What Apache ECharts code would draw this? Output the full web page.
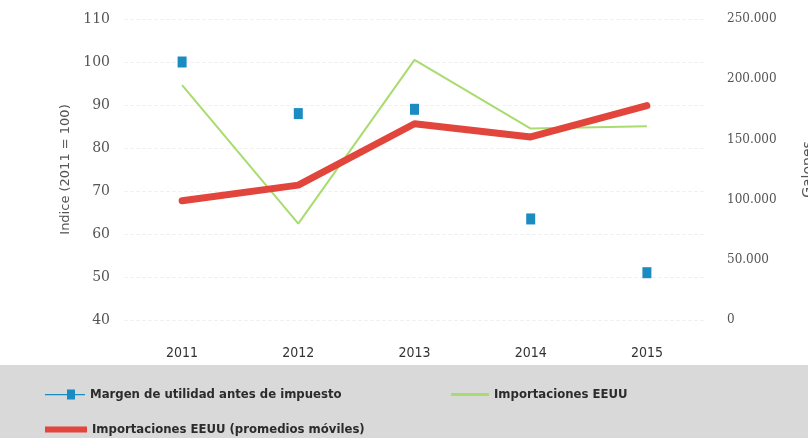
<!DOCTYPE html>
<html>
<head>
<meta charset="utf-8">
<script src="https://cdn.jsdelivr.net/npm/echarts@6/dist/echarts.min.js"></script>
<style>
  html, body { margin: 0; padding: 0; background: #fff; }
  #chart { width: 808px; height: 438px; }
</style>
</head>
<body>
<div id="chart"></div>
<script>
// datos
var years = ['2011', '2012', '2013', '2014', '2015']
var margen = [100, 88, 89, 63.5, 51] // índice (2011 = 100)
var importaciones = [195000, 80000, 216000, 159000, 161000] // galones
var importacionesProm = [99000, 112000, 163000, 152000, 178000] // promedios móviles

var chart = echarts.init(document.getElementById('chart'))

function miles(v) {
  // 250000 -> 250.000
  return String(v).replace(/\B(?=(\d{3})+(?!\d))/g, '.')
}

var legendText = {
  color: '#2b2b2b',
  fontSize: 13,
  fontWeight: 'bold',
  fontFamily: 'DejaVu Sans Condensed'
}

var option = {
  backgroundColor: '#ffffff',
  animation: false,
  graphic: [{
    type: 'rect',
    left: 0,
    top: 365,
    shape: { width: 808, height: 73 },
    style: { fill: '#d9d9d9' },
    z: -1
  }],
  grid: {
    left: 124,
    right: 103,
    top: 19,
    bottom: 118,
    outerBoundsMode: 'none'
  },
  legend: [{
    left: 40,
    top: 383,
    itemWidth: 40,
    itemHeight: 10,
    itemGap: 3,
    textStyle: legendText,
    data: [{
      name: 'Margen de utilidad antes de impuesto',
      icon: 'path://M0,4.5h40v1.2h-40z M22,0h8v10h-8z'
    }]
  }, {
    left: 446,
    top: 383,
    itemWidth: 38,
    itemHeight: 3,
    itemGap: 4,
    textStyle: legendText,
    data: [{ name: 'Importaciones EEUU', icon: 'rect' }]
  }, {
    left: 40,
    top: 418,
    itemWidth: 42,
    itemHeight: 6,
    itemGap: 3,
    textStyle: legendText,
    data: [{ name: 'Importaciones EEUU (promedios móviles)', icon: 'rect' }]
  }],
  xAxis: {
    type: 'category',
    data: years,
    boundaryGap: true,
    axisLine: { show: false },
    axisTick: { show: false },
    axisLabel: {
      color: '#333',
      fontSize: 14,
      fontFamily: 'DejaVu Sans Condensed',
      margin: 26
    }
  },
  yAxis: [{
    type: 'value',
    min: 40,
    max: 110,
    interval: 10,
    name: 'Indice (2011 = 100)',
    nameLocation: 'middle',
    nameGap: 41,
    nameTextStyle: { color: '#555', fontSize: 13, fontFamily: 'DejaVu Sans' },
    axisLine: { show: false },
    axisTick: { show: false },
    axisLabel: { color: '#555', fontSize: 14, fontFamily: 'DejaVu Serif', margin: 14 },
    splitLine: { lineStyle: { color: '#f1f1f1', type: 'dashed' } }
  }, {
    type: 'value',
    min: 0,
    max: 250000,
    interval: 50000,
    name: 'Galones',
    nameLocation: 'middle',
    nameGap: 96,
    nameRotate: 90,
    nameTextStyle: { color: '#555', fontSize: 14, fontFamily: 'DejaVu Sans' },
    axisLine: { show: false },
    axisTick: { show: false },
    axisLabel: {
      color: '#555',
      fontSize: 12,
      fontFamily: 'DejaVu Serif',
      margin: 22,
      formatter: miles
    },
    splitLine: { show: false }
  }],
  series: [{
    name: 'Importaciones EEUU',
    type: 'line',
    yAxisIndex: 1,
    data: importaciones,
    symbol: 'none',
    lineStyle: { color: '#a9dc6e', width: 2 },
    itemStyle: { color: '#a9dc6e' },
    z: 2
  }, {
    name: 'Importaciones EEUU (promedios móviles)',
    type: 'line',
    yAxisIndex: 1,
    data: importacionesProm,
    symbol: 'none',
    lineStyle: { color: '#e2453c', width: 7, cap: 'round', join: 'round' },
    itemStyle: { color: '#e2453c' },
    z: 3
  }, {
    name: 'Margen de utilidad antes de impuesto',
    type: 'scatter',
    yAxisIndex: 0,
    data: margen,
    symbol: 'rect',
    symbolSize: [9, 11],
    itemStyle: { color: '#1b8cc2', opacity: 1 },
    z: 4
  }]
}

chart.setOption(option)
</script>
</body>
</html>
